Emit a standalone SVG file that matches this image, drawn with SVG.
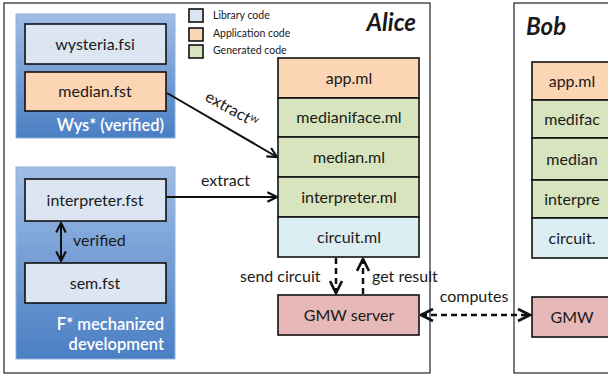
<svg xmlns="http://www.w3.org/2000/svg" width="608" height="376" viewBox="0 0 608 376">
<style>
  text { font-family: "Lato", "Open Sans", "Liberation Sans", sans-serif; fill: #1a1a1a; }
  .frame { fill: #ffffff; stroke: #222; stroke-width: 1.2; }
  .panel { fill: url(#panelGrad); stroke: #8eb0dc; stroke-width: 1; }
  .box { stroke: #111; stroke-width: 1.6; }
  .lib { fill: #dce6f2; }
  .app { fill: #fcd5b5; }
  .gen { fill: #d7e4bd; }
  .circ { fill: #dbeef4; }
  .gmw { fill: #e6b9b8; }
  .lbl { font-size: 16px; text-anchor: middle; }
  .ptxt { font-size: 16.5px; fill: #ffffff; text-anchor: end; font-weight: 600; }
  .legend { font-size: 10.5px; }
  .ltxt { font-size: 16px; }
  .party { font-size: 24px; font-style: italic; font-weight: bold; }
  .arrow { stroke: #111; stroke-width: 2; fill: none; }
  .dash { stroke: #111; stroke-width: 2.5; fill: none; stroke-dasharray: 6 4; }
</style>
<defs>
  <linearGradient id="panelGrad" x1="0" y1="0" x2="0" y2="1">
    <stop offset="0" stop-color="#a0bde6"/>
    <stop offset="1" stop-color="#4a7fc4"/>
  </linearGradient>
  <marker id="ah" viewBox="0 0 10 10" refX="9" refY="5" markerWidth="6" markerHeight="6" orient="auto-start-reverse" markerUnits="strokeWidth">
    <path d="M1,1 L9,5 L1,9" fill="none" stroke="#111" stroke-width="1.8"/>
  </marker>
</defs>

<g id="alice-frame">
  <rect class="frame" x="4" y="3" width="426" height="370"/>
  <text class="party" x="416" y="31" text-anchor="end">Alice</text>
</g>
<g id="bob-frame">
  <rect class="frame" x="514" y="3" width="120" height="370"/>
  <text class="party" x="526" y="35">Bob</text>
</g>

<g id="legend">
  <rect class="box lib" x="189" y="9" width="14" height="13" stroke-width="1.2"/>
  <rect class="box app" x="189" y="28" width="14" height="13" stroke-width="1.2"/>
  <rect class="box gen" x="189" y="45" width="14" height="13" stroke-width="1.2"/>
  <text class="legend" x="213" y="18.5">Library code</text>
  <text class="legend" x="213" y="36.5">Application code</text>
  <text class="legend" x="213" y="54">Generated code</text>
</g>

<g id="wys-panel">
  <rect class="panel" x="16" y="14" width="159" height="124"/>
  <text class="ptxt" x="164" y="131">Wys* (verified)</text>
</g>
<g id="wysteria-fsi">
  <rect class="box lib" x="25" y="24" width="141" height="40"/>
  <text class="lbl" x="95" y="49.5">wysteria.fsi</text>
</g>
<g id="median-fst">
  <rect class="box app" x="25" y="72" width="141" height="39"/>
  <text class="lbl" x="95" y="97">median.fst</text>
</g>

<g id="fstar-panel">
  <rect class="panel" x="16" y="167" width="159" height="192"/>
  <text class="ptxt" x="164" y="330">F* mechanized</text>
  <text class="ptxt" x="164" y="350">development</text>
</g>
<g id="interpreter-fst">
  <rect class="box lib" x="25" y="179" width="141" height="42"/>
  <text class="lbl" x="95" y="206">interpreter.fst</text>
</g>
<g id="sem-fst">
  <rect class="box lib" x="25" y="263" width="141" height="40"/>
  <text class="lbl" x="95" y="289">sem.fst</text>
</g>

<g id="alice-app-ml">
  <rect class="box app" x="278" y="58" width="141" height="40"/>
  <text class="lbl" x="349" y="84">app.ml</text>
</g>
<g id="alice-medianiface-ml">
  <rect class="box gen" x="278" y="98" width="141" height="39"/>
  <text class="lbl" x="349" y="123">medianiface.ml</text>
</g>
<g id="alice-median-ml">
  <rect class="box gen" x="278" y="137" width="141" height="40"/>
  <text class="lbl" x="349" y="163">median.ml</text>
</g>
<g id="alice-interpreter-ml">
  <rect class="box gen" x="278" y="177" width="141" height="40"/>
  <text class="lbl" x="349" y="203">interpreter.ml</text>
</g>
<g id="alice-circuit-ml">
  <rect class="box circ" x="278" y="217" width="141" height="40"/>
  <text class="lbl" x="349" y="243">circuit.ml</text>
</g>
<g id="alice-gmw">
  <rect class="box gmw" x="278" y="295" width="141" height="40"/>
  <text class="lbl" x="349" y="321">GMW server</text>
</g>

<g id="bob-app-ml">
  <rect class="box app" x="532" y="62" width="110" height="38"/>
  <text class="lbl" x="572" y="87">app.ml</text>
</g>
<g id="bob-medianiface-ml">
  <rect class="box gen" x="532" y="100" width="110" height="38"/>
  <text class="lbl" x="572" y="125">medifac</text>
</g>
<g id="bob-median-ml">
  <rect class="box gen" x="532" y="138" width="110" height="42"/>
  <text class="lbl" x="572" y="165">median</text>
</g>
<g id="bob-interpreter-ml">
  <rect class="box gen" x="532" y="180" width="110" height="38"/>
  <text class="lbl" x="572" y="205">interpre</text>
</g>
<g id="bob-circuit-ml">
  <rect class="box circ" x="532" y="218" width="110" height="40"/>
  <text class="lbl" x="572" y="244">circuit.</text>
</g>
<g id="bob-gmw">
  <rect class="box gmw" x="532" y="297" width="110" height="40"/>
  <text class="lbl" x="572" y="323">GMW</text>
</g>

<g id="connectors">
  <line class="arrow" x1="167" y1="93" x2="277" y2="157" marker-end="url(#ah)"/>
  <text class="ltxt" transform="translate(204,100) rotate(29)">extract<tspan font-size="11" dy="-5">w</tspan></text>
  <line class="arrow" x1="166" y1="197" x2="277" y2="197" marker-end="url(#ah)"/>
  <text class="ltxt" x="201" y="186">extract</text>
  <line class="arrow" x1="61" y1="223" x2="61" y2="261" stroke-width="2.5" marker-start="url(#ah)" marker-end="url(#ah)"/>
  <text class="ltxt" x="73" y="246">verified</text>
  <line class="dash" x1="336" y1="258" x2="336" y2="293" marker-end="url(#ah)"/>
  <text class="ltxt" x="240" y="282">send circuit</text>
  <line class="dash" x1="363" y1="294" x2="363" y2="259" marker-end="url(#ah)"/>
  <text class="ltxt" x="372" y="282">get result</text>
  <line class="dash" x1="421" y1="315" x2="530" y2="315" marker-start="url(#ah)" marker-end="url(#ah)"/>
  <text class="ltxt" x="474" y="302" text-anchor="middle">computes</text>
</g>
</svg>
